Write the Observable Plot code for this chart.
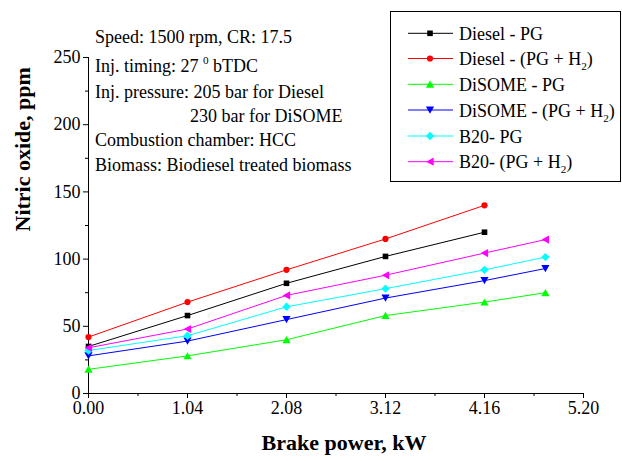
<!DOCTYPE html>
<html><head><meta charset="utf-8">
<script src="https://cdn.jsdelivr.net/npm/d3@7"></script>
<script src="https://cdn.jsdelivr.net/npm/@observablehq/plot@0.6"></script>
<style>body{margin:0;background:#fff} #chart{width:622px;height:461px;}</style>
</head><body><div id="chart"></div>
<script>
// ---- data ----
const brakePower = [0, 1.04, 2.08, 3.12, 4.16, 4.80];
const dieselPG     = [35, 58, 82, 102, 120];
const dieselPGH2   = [42, 68, 92, 115, 140];
const disomePG     = [18, 28, 40, 58, 68, 75];
const disomePGH2   = [28, 39, 55, 71, 84, 93];
const b20PG        = [32, 43, 64.5, 78, 92, 101.5];
const b20PGH2      = [34, 48, 73, 88, 104.5, 114.5];
const seriesNames  = ["Diesel - PG", "Diesel - (PG + H_2)", "DiSOME - PG", "DiSOME - (PG + H_2)", "B20- PG", "B20- (PG + H_2)"];
const seriesColors = ["#000000", "#ff0000", "#00ff00", "#0000ff", "#00ffff", "#ff00ff"];
const xTicks = [0, 1.04, 2.08, 3.12, 4.16, 5.2];
const xMinorTicks = [0.52, 1.56, 2.6, 3.64, 4.68];
const yTicks = [0, 50, 100, 150, 200, 250];
const yMinorTicks = [25, 75, 125, 175, 225];
const xLabel = "Brake power, kW";
const yLabel = "Nitric oxide, ppm";
const noteLines = ["Speed: 1500 rpm, CR: 17.5", "Inj. timing: 27 ^0 bTDC", "Inj. pressure: 205 bar for Diesel", "230 bar for DiSOME", "Combustion chamber: HCC", "Biomass: Biodiesel treated biomass"];

// ---- symbols ----
const sq = {draw(c){ c.rect(-2.8,-2.8,5.6,5.6); }};
const ci = {draw(c){ c.moveTo(3.1,0); c.arc(0,0,3.1,0,2*Math.PI); }};
const triUp = {draw(c){ c.moveTo(0,-3.7); c.lineTo(4.1,3.5); c.lineTo(-4.1,3.5); c.closePath(); }};
const triDown = {draw(c){ c.moveTo(0,3.7); c.lineTo(4.1,-3.5); c.lineTo(-4.1,-3.5); c.closePath(); }};
const diamond = {draw(c){ c.moveTo(0,-4.2); c.lineTo(4.2,0); c.lineTo(0,4.2); c.lineTo(-4.2,0); c.closePath(); }};
const triLeft = {draw(c){ c.moveTo(-3.8,0); c.lineTo(3.6,-4.1); c.lineTo(3.6,4.1); c.closePath(); }};
const seriesSymbols = [sq, ci, triUp, triDown, diamond, triLeft];

const seriesValues = [dieselPG, dieselPGH2, disomePG, disomePGH2, b20PG, b20PGH2];
const series = seriesValues.map((vals, k) => vals.map((v, i) => ({x: brakePower[i], y: v, s: seriesNames[k]})));

const marks = [];
series.forEach((d, k) => {
  marks.push(Plot.line(d, {x: "x", y: "y", stroke: seriesColors[k], strokeWidth: 1}));
});
series.forEach((d, k) => {
  marks.push(Plot.dot(d, {x: "x", y: "y", r: 3, symbol: seriesSymbols[k], fill: seriesColors[k], stroke: "none"}));
});

const serif = "'Liberation Serif', 'Times New Roman', serif";
const fmt = d3.format(".2f");
const plot = Plot.plot({
  width: 622, height: 461,
  marginLeft: 88, marginRight: 39, marginTop: 57, marginBottom: 68,
  style: {fontFamily: serif, fontSize: "18px", color: "black", background: "white"},
  x: {domain: [0, 5.2]},
  y: {domain: [0, 250]},
  marks: [
    Plot.axisY(yMinorTicks, {tickSize: 3, tickFormat: () => "", label: null}),
    Plot.axisY(yTicks, {tickSize: 5, tickPadding: 3, fontSize: 18, label: null}),
    Plot.axisX(xMinorTicks, {tickSize: 3, tickFormat: () => "", label: null}),
    Plot.axisX(xTicks, {tickSize: 5, tickPadding: 3, fontSize: 18, tickFormat: fmt, label: null}),
    Plot.ruleX([0], {stroke: "black"}),
    Plot.ruleY([0], {stroke: "black"}),
    ...marks,
    Plot.text([yLabel], {text: d => d, frameAnchor: "left", dx: -66, dy: 6, rotate: -90, fontSize: 22, fontWeight: "bold", fill: "black"}),
    Plot.text([xLabel], {text: d => d, frameAnchor: "bottom", dx: 8, dy: 56, fontSize: 22, fontWeight: "bold", fill: "black"})
  ]
});
plot.setAttribute("font-family", serif);
document.getElementById("chart").appendChild(plot);

// ---- rich text helper (_x subscript, ^x superscript) ----
function rich(sel, str, size) {
  const re = /([_^])(\w)/g; let last = 0, m, pend = 0;
  const add = (t) => { const ts = sel.append("tspan").text(t); if (pend) { ts.attr("dy", pend); pend = 0; } return ts; };
  while ((m = re.exec(str))) {
    if (m.index > last) add(str.slice(last, m.index));
    const sub = m[1] === "_";
    const off = sub ? 5 : -8;
    sel.append("tspan").attr("font-size", size * 0.62).attr("dy", off + pend).text(m[2]);
    pend = -off;
    last = re.lastIndex;
  }
  if (last < str.length) add(str.slice(last));
}

const svg = d3.select(plot);
// notes
const noteX = [95, 95, 95, 190, 95, 95];
const noteY = [43, 72, 98, 122, 146, 170.5];
noteLines.forEach((t, i) => {
  const te = svg.append("text").attr("x", noteX[i]).attr("y", noteY[i]).attr("font-size", 18).attr("fill", "black").attr("text-anchor", "start").attr("font-family", serif);
  rich(te, t, 18);
});

// legend
const lg = svg.append("g").attr("text-anchor", "start").attr("font-family", serif);
lg.append("rect").attr("x", 390.5).attr("y", 11.5).attr("width", 230).attr("height", 170).attr("fill", "white").attr("stroke", "black").attr("stroke-width", 1);
const rowY = [33.3, 58.5, 84.3, 110, 136, 161.7];
seriesNames.forEach((name, k) => {
  const y = rowY[k];
  lg.append("line").attr("x1", 408).attr("x2", 453).attr("y1", y).attr("y2", y).attr("stroke", seriesColors[k]).attr("stroke-width", 1);
  lg.append("path").attr("transform", `translate(430,${y})`).attr("d", d3.symbol().type(seriesSymbols[k])()).attr("fill", seriesColors[k]);
  const te = lg.append("text").attr("x", 459).attr("y", y + 6.5).attr("font-size", 18).attr("fill", "black");
  rich(te, name, 18);
});
</script>
</body></html>
